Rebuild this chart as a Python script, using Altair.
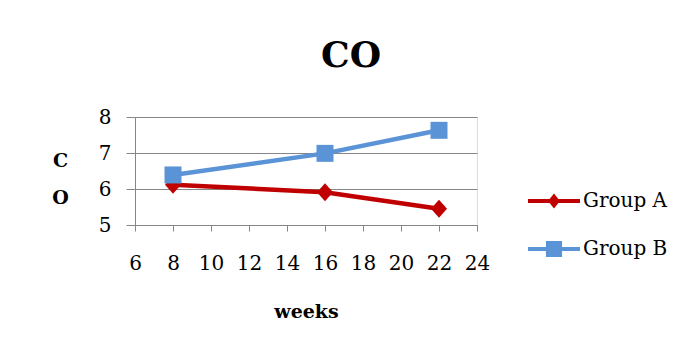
import altair as alt
import pandas as pd

# ---- data ----
weeks = [8, 16, 22]
group_a = [6.12, 5.91, 5.45]
group_b = [6.39, 6.99, 7.63]
series_names = ["Group A", "Group B"]
series_colors = ["#C00000", "#5B93D7"]
x_ticks = [6, 8, 10, 12, 14, 16, 18, 20, 22, 24]
y_ticks = [5, 6, 7, 8]
chart_title = "CO"
x_title = "weeks"
y_title = ["C", "O"]

rows = []
for w, a, b in zip(weeks, group_a, group_b):
    rows.append({"weeks": w, "value": a, "group": series_names[0]})
    rows.append({"weeks": w, "value": b, "group": series_names[1]})
df = pd.DataFrame(rows)

FONT = "DejaVu Serif"
GRID = "#868686"

color_scale = alt.Scale(domain=series_names, range=series_colors)

# legend symbols: a line segment with the series marker on it
legend_paths = [
    "M-1,-0.08L1,-0.08L1,0.08L-1,0.08Z M0,-0.29L0.23,0L0,0.29L-0.23,0Z",
    "M-1,-0.08L1,-0.08L1,0.08L-1,0.08Z M-0.31,-0.31L0.31,-0.31L0.31,0.31L-0.31,0.31Z",
]
diamond_path = "M0,-1L0.89,0L0,1L-0.89,0Z"

x_enc = alt.X(
    "weeks:Q",
    scale=alt.Scale(domain=[6, 24], nice=False, zero=False),
    axis=alt.Axis(
        values=x_ticks, title=x_title, grid=False, labelOverlap=False, labelFlush=False,
        domainColor=GRID, tickColor=GRID, tickSize=6,
        labelFont=FONT, labelFontSize=20, labelColor="black", labelPadding=22,
        titleFont=FONT, titleFontSize=19, titleFontWeight="bold", titleColor="black",
        titleY=92, titleBaseline="alphabetic",
    ),
)
y_enc = alt.Y(
    "value:Q",
    scale=alt.Scale(domain=[5, 8], nice=False, zero=False),
    axis=alt.Axis(
        values=y_ticks, title=y_title, grid=True, gridColor=GRID,
        labelOverlap=False, labelFlush=False,
        domainColor=GRID, tickColor=GRID, tickSize=9,
        labelFont=FONT, labelFontSize=20, labelColor="black", labelPadding=15,
        titleFont=FONT, titleFontSize=19, titleFontWeight="bold", titleColor="black",
        titleAngle=0, titleX=-75, titleY=43, titleBaseline="middle",
        titleAlign="center", titleLineHeight=37,
    ),
)

base = alt.Chart(df).encode(x=x_enc, y=y_enc)

leg = alt.Legend(
    title=None, orient="none", legendX=393, legendY=58,
    symbolSize=2704, symbolStrokeWidth=0, symbolOpacity=1,
    labelFont=FONT, labelFontSize=20,
    labelColor="black", labelOffset=3, rowPadding=12, padding=0,
)
legend_layer = base.mark_point(filled=True, opacity=0, size=1).encode(
    color=alt.Color("group:N", scale=color_scale, legend=leg),
    shape=alt.Shape("group:N", scale=alt.Scale(domain=series_names, range=legend_paths), legend=leg),
)

lines = base.mark_line(strokeWidth=4.5).encode(
    color=alt.Color("group:N", scale=color_scale)
)
marks_a = base.transform_filter(alt.datum.group == series_names[0]).mark_point(
    filled=True, opacity=1, shape=diamond_path, size=324
).encode(color=alt.Color("group:N", scale=color_scale))
marks_b = base.transform_filter(alt.datum.group == series_names[1]).mark_point(
    filled=True, opacity=1, shape="square", size=289
).encode(color=alt.Color("group:N", scale=color_scale))

chart = alt.layer(legend_layer, lines, marks_a, marks_b).properties(
    width=342, height=108,
    title=alt.TitleParams(
        chart_title, font=FONT, fontSize=36, fontWeight="bold", color="black",
        anchor="middle", dx=45, offset=4, baseline="alphabetic",
    ),
    autosize=alt.AutoSizeParams(type="none"),
    padding={"left": 127, "top": 109, "right": 203, "bottom": 119},
).configure_view(stroke=None).configure(background="white")

chart.save("out.html", embed_options={"renderer": "svg", "actions": False})
